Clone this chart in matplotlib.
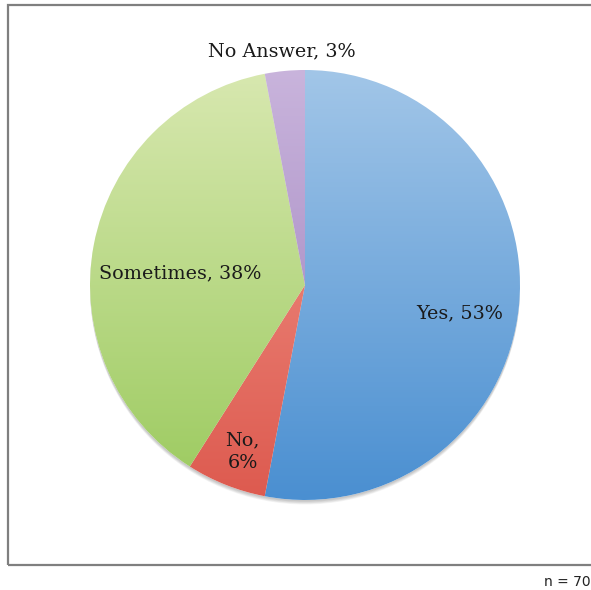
import numpy as np
import matplotlib
matplotlib.use("Agg")
import matplotlib.pyplot as plt
from matplotlib.colors import LinearSegmentedColormap
from matplotlib.patches import Rectangle, Circle

# 各回答的占比（%）
categories = ["Yes", "No", "Sometimes", "No Answer"]
shares = [53, 6, 38, 3]
n_total = 70

# 每个扇区的渐变色（上浅下深）
grad_colors = {
    "Yes": ("#a2c6e8", "#4a8fd1"),
    "No": ("#f39a8e", "#dd5a4f"),
    "Sometimes": ("#d8e8b0", "#9bca5e"),
    "No Answer": ("#c9b4dc", "#9a7cba"),
}

# 标签位置（数据坐标，饼半径为 1）
label_pos = {
    "Yes": (0.72, -0.13),
    "No": (-0.29, -0.775),
    "Sometimes": (-0.58, 0.055),
    "No Answer": (-0.11, 1.085),
}

W, H = 591, 590
fig = plt.figure(figsize=(W / 100, H / 100), dpi=100)
fig.patch.set_facecolor("white")

# 外框
fig.patches.append(Rectangle((8 / W, 1 - 565 / H), 1.2, (565 - 5) / H,
                             transform=fig.transFigure, fill=False,
                             edgecolor="#7f7f7f", linewidth=1.6))

cx, cy, r = 305, 285, 215
lim = 1.1
ax = fig.add_axes([(cx - r * lim) / W, (H - cy - r * lim) / H,
                   2 * r * lim / W, 2 * r * lim / H])
ax.axis("off")

# 底部柔和阴影
for k in range(6):
    ax.add_patch(Circle((0.0, -0.006 - k * 0.003), 1.0,
                        facecolor="black", edgecolor="none", alpha=0.04, zorder=0))

wedges, _ = ax.pie(shares, startangle=90, counterclock=False, radius=1.0,
                   colors=["white"] * len(shares),
                   wedgeprops=dict(linewidth=0))

grad = np.linspace(0, 1, 256).reshape(-1, 1)
for w, name in zip(wedges, categories):
    cmap = LinearSegmentedColormap.from_list(name, [grad_colors[name][1], grad_colors[name][0]])
    im = ax.imshow(grad, cmap=cmap, extent=(-1, 1, -1, 1), origin="lower",
                   aspect="auto", zorder=2)
    im.set_clip_path(w)

ax.set_xlim(-lim, lim)
ax.set_ylim(-lim, lim)
ax.set_aspect("equal")

for name, val in zip(categories, shares):
    txt = f"{name},\n{val}%" if name == "No" else f"{name}, {val}%"
    x, y = label_pos[name]
    ax.text(x, y, txt, ha="center", va="center", fontsize=13.8,
            family="DejaVu Serif", color="#1a1a1a", zorder=5,
            linespacing=1.3, clip_on=False)

fig.text(544 / W, 1 - 582 / H, f"n = {n_total}", ha="left", va="center",
         fontsize=10, family="DejaVu Sans", color="#222222")

fig.savefig("out.png", dpi=100)
